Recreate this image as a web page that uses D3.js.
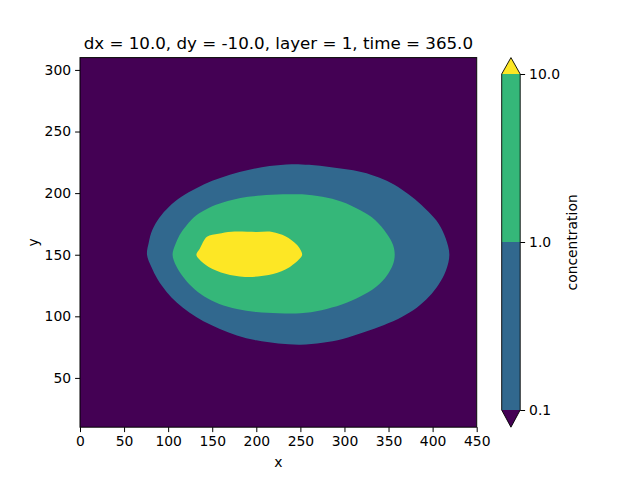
<!DOCTYPE html>
<html>
<head>
<meta charset="utf-8">
<script src="https://cdn.jsdelivr.net/npm/d3@7"></script>
<style>
  body { margin: 0; background: #fff; }
  svg { display: block; }
  text { font-family: "DejaVu Sans", sans-serif; fill: #000; }
</style>
</head>
<body>
<svg id="chart" width="640" height="480"></svg>
<script>
// ---- data ----
const title = "dx = 10.0, dy = -10.0, layer = 1, time = 365.0";
const xTicks = [0, 50, 100, 150, 200, 250, 300, 350, 400, 450];
const yTicks = [50, 100, 150, 200, 250, 300];
const levels = [0.1, 1.0, 10.0];
const levelLabels = ["0.1", "1.0", "10.0"];
const bandColors = ["#440154", "#31688e", "#35b779", "#fde725"]; // <0.1, 0.1-1, 1-10, >10

// contour boundaries (x, y in data units)
const contour01 = [
  [76, 150], [78, 160], [82, 170], [90, 180], [101, 189], [115, 197], [132, 204], [150, 210],
  [170, 215], [192, 219], [215, 222], [240, 223.5], [260, 223], [285, 221], [310, 218.5],
  [330, 215], [348, 210], [365, 203], [380, 195], [395, 185], [407, 175], [415, 163], [419, 150],
  [415, 137], [407, 126], [396, 116], [382, 107], [365, 99.5], [345, 93], [322, 87], [298, 81.5],
  [275, 78.5], [250, 77], [225, 78], [200, 80.5], [178, 84.5], [158, 90], [140, 96], [124, 103],
  [110, 111], [98, 120], [88, 130], [81, 140]
];
const contour1 = [
  [105, 150], [108, 158], [113, 166], [121, 174], [132, 182], [146, 188], [163, 192.5], [182, 196],
  [205, 198], [230, 199], [252, 199], [275, 197], [297, 193], [318, 186], [335, 178], [348, 167],
  [355, 158], [357, 150], [355, 142], [348, 133], [336, 124], [318, 116], [297, 109.5], [274, 105],
  [250, 102.5], [225, 102.5], [200, 103.5], [178, 106], [158, 110], [141, 116], [127, 124],
  [116, 133], [109, 141]
];
const contour10 = [
  [132, 150], [136, 155], [144, 164.5], [157, 167], [172, 168.7], [200, 168.5], [218, 168.5],
  [233, 165], [246, 158], [252, 150], [248, 146], [233, 138], [214, 133.5], [187, 132],
  [165, 134.5], [146, 140], [135, 146.5]
];

// ---- layout ----
const svg = d3.select("#chart");
const x = d3.scaleLinear().domain([0, 450]).range([80, 476.7]);
const y = d3.scaleLinear().domain([10, 310]).range([427.2, 57.6]);

const defs = svg.append("defs");
defs.append("clipPath").attr("id", "plotclip")
  .append("rect").attr("x", x(0)).attr("y", y(310))
  .attr("width", x(450) - x(0)).attr("height", y(10) - y(310));

const plot = svg.append("g").attr("clip-path", "url(#plotclip)");
plot.append("rect").attr("x", x(0)).attr("y", y(310))
  .attr("width", x(450) - x(0)).attr("height", y(10) - y(310))
  .attr("fill", bandColors[0]);

const line = d3.line().x(d => x(d[0])).y(d => y(d[1])).curve(d3.curveCatmullRomClosed.alpha(0.5));
[contour01, contour1, contour10].forEach((c, i) => {
  plot.append("path").attr("d", line(c)).attr("fill", bandColors[i + 1]);
});

// spines
svg.append("rect").attr("x", x(0)).attr("y", y(310))
  .attr("width", x(450) - x(0)).attr("height", y(10) - y(310))
  .attr("fill", "none").attr("stroke", "#000").attr("stroke-width", 1);

// axes
const fs = 13.9;
const xAxis = d3.axisBottom(x).tickValues(xTicks).tickFormat(d3.format("d")).tickSize(4.9).tickPadding(4);
const gx = svg.append("g").attr("transform", `translate(0,${y(10)})`).call(xAxis);
const yAxis = d3.axisLeft(y).tickValues(yTicks).tickFormat(d3.format("d")).tickSize(4.9).tickPadding(4);
const gy = svg.append("g").attr("transform", `translate(${x(0)},0)`).call(yAxis);
[gx, gy].forEach(g => {
  g.select(".domain").remove();
  g.selectAll(".tick line").attr("stroke", "#000").attr("stroke-width", 1);
  g.selectAll(".tick text").attr("font-size", fs).attr("font-family", "DejaVu Sans").attr("fill", "#000");
});

svg.append("text").attr("x", (x(0) + x(450)) / 2).attr("y", 467)
  .attr("text-anchor", "middle").attr("font-size", fs).text("x");
svg.append("text").attr("transform", `translate(38,${(y(10) + y(310)) / 2}) rotate(-90)`)
  .attr("text-anchor", "middle").attr("font-size", fs).text("y");

svg.append("text").attr("x", (x(0) + x(450)) / 2).attr("y", 49)
  .attr("text-anchor", "middle").attr("font-size", 16.7).text(title);

// ---- colorbar ----
const cbX = 501.7, cbW = 18.5;
const cb = d3.scaleLog().domain([0.1, 10]).range([410, 74]);
const cbg = svg.append("g");
for (let i = 0; i < levels.length - 1; i++) {
  cbg.append("rect").attr("x", cbX).attr("y", cb(levels[i + 1]))
    .attr("width", cbW).attr("height", cb(levels[i]) - cb(levels[i + 1]))
    .attr("fill", bandColors[i + 1]);
}
const topTip = 57.6, botTip = 427.2;
cbg.append("path")
  .attr("d", `M${cbX},${cb(10)} L${cbX + cbW / 2},${topTip} L${cbX + cbW},${cb(10)} Z`)
  .attr("fill", bandColors[3]);
cbg.append("path")
  .attr("d", `M${cbX},${cb(0.1)} L${cbX + cbW / 2},${botTip} L${cbX + cbW},${cb(0.1)} Z`)
  .attr("fill", bandColors[0]);
cbg.append("path")
  .attr("d", `M${cbX},${cb(10)} L${cbX + cbW / 2},${topTip} L${cbX + cbW},${cb(10)} L${cbX + cbW},${cb(0.1)} L${cbX + cbW / 2},${botTip} L${cbX},${cb(0.1)} Z`)
  .attr("fill", "none").attr("stroke", "#000").attr("stroke-width", 0.9);

const cbAxis = d3.axisRight(cb).tickValues(levels).tickFormat((d, i) => levelLabels[i]).tickSize(4.9).tickPadding(4);
const gcb = svg.append("g").attr("transform", `translate(${cbX + cbW},0)`).call(cbAxis);
gcb.select(".domain").remove();
gcb.selectAll(".tick line").attr("stroke", "#000").attr("stroke-width", 1);
gcb.selectAll(".tick text").attr("font-size", fs).attr("font-family", "DejaVu Sans").attr("fill", "#000");

svg.append("text").attr("transform", `translate(577,${(57.6 + 427.2) / 2}) rotate(-90)`)
  .attr("text-anchor", "middle").attr("font-size", fs).text("concentration");
</script>
</body>
</html>
